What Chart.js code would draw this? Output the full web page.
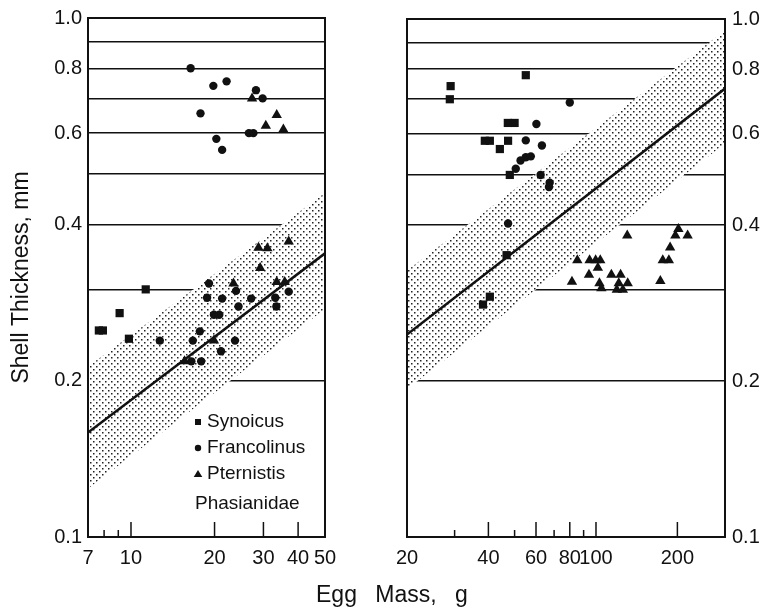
<!DOCTYPE html>
<html>
<head>
<meta charset="utf-8">
<script src="https://cdn.jsdelivr.net/npm/chart.js@4.4.0/dist/chart.umd.min.js"></script>
<style>
  html, body { margin: 0; padding: 0; background: #fff; }
  #wrap { position: relative; width: 763px; height: 609px; overflow: hidden; }
  .panel { position: absolute; top: 0; height: 609px; }
  #left  { left: 0; width: 366px; }
  #right { left: 366px; width: 397px; }
  #xtitle { position: absolute; left: 316px; top: 583px; font: 23px "Liberation Sans", Arial, sans-serif;
            line-height: 1; word-spacing: 12px; color: #111; white-space: nowrap; }
</style>
</head>
<body>
<div id="wrap">
  <div class="panel" id="left"><canvas id="c-left"></canvas></div>
  <div class="panel" id="right"><canvas id="c-right"></canvas></div>
  <div id="xtitle">Egg Mass, g</div>
</div>
<script>
/* Egg shell thickness vs egg mass - two log-log panels */

/* ── Axis ticks ── */
var yGrid   = [0.1, 0.2, 0.3, 0.4, 0.5, 0.6, 0.7, 0.8, 0.9, 1.0];
var yLabels = [0.1, 0.2, 0.4, 0.6, 0.8, 1.0];

var leftTicks   = [7, 8, 9, 10, 20, 30, 40, 50];
var leftLabels  = [7, 10, 20, 30, 40, 50];
var rightTicks  = [20, 30, 40, 50, 60, 70, 80, 90, 100, 200, 300];
var rightLabels = [20, 40, 60, 80, 100, 200];

/* ── Phasianidae: [egg mass g, shell thickness mm] ── */
var synoicus = [[7.66,0.25],[7.92,0.25],[9.1,0.27],[9.83,0.241],[11.3,0.30]];
var francolinus = [
  [16.4,0.80],[19.8,0.74],[22.1,0.755],[17.8,0.655],[20.3,0.585],[21.3,0.557],
  [28.2,0.726],[29.8,0.70],[26.6,0.60],[27.6,0.60],
  [12.7,0.239],[19.1,0.308],[18.8,0.289],[21.3,0.288],[19.9,0.268],[20.8,0.268],
  [17.7,0.249],[16.7,0.239],[24.4,0.278],[23.9,0.298],[27.1,0.288],[23.7,0.239],
  [21.1,0.228],[33.1,0.289],[33.4,0.278],[37,0.297],[16.5,0.218],[17.9,0.218]
];
var pternistis = [
  [27.3,0.70],[30.6,0.62],[33.5,0.65],[35.4,0.61],[28.8,0.361],[31,0.36],[37,0.371],
  [29.2,0.33],[33.5,0.31],[35.8,0.31],[23.4,0.308],[19.9,0.239],[15.6,0.218]
];

/* ── Numididae, Cracidae, Megapodidae ── */
var numida = [
  [29,0.742],[28.8,0.70],[47.2,0.63],[50,0.63],[38.8,0.582],[40.5,0.582],[44.1,0.561],
  [47.3,0.582],[48,0.50],[55,0.779],[46.7,0.35],[38.2,0.281],[40.5,0.291]
];
var ortalis = [
  [80,0.69],[60.2,0.627],[55,0.583],[63.1,0.57],[52.6,0.533],[55,0.541],[57.4,0.543],
  [50.5,0.514],[62.4,0.50],[67.4,0.483],[67,0.474],[47.3,0.403]
];
var megapodidae = [
  [130.5,0.382],[201.7,0.393],[196.6,0.382],[218.2,0.382],[188,0.362],[176.6,0.342],
  [186,0.342],[173,0.312],[85.3,0.342],[94.7,0.342],[99.7,0.342],[103.7,0.342],
  [101.6,0.331],[94.2,0.321],[81.5,0.311],[114,0.321],[123.3,0.321],[103,0.309],
  [104.7,0.302],[121.4,0.309],[131,0.309],[119.4,0.300],[125.7,0.300]
];

/* ── Allometric line and its band (end points) ── */
var leftFit     = [[7,0.159],[50,0.352]];
var leftBandHi  = [[7,0.213],[50,0.46]];
var leftBandLo  = [[7,0.124],[50,0.275]];
var rightFit    = [[20,0.246],[300,0.734]];
var rightBandHi = [[20,0.327],[300,0.95]];
var rightBandLo = [[20,0.193],[300,0.575]];

var INK = '#111';
var tickFont   = { family: '"Liberation Sans", Arial, sans-serif', size: 20 };
var legendFont = '19px "Liberation Sans", Arial, sans-serif';

function xy(a) { return a.map(function(p) { return { x: p[0], y: p[1] }; }); }

/* white-backed dot screen, so grid lines vanish under the band */
function stipple() {
    var c = document.createElement('canvas');
    c.width = 6; c.height = 6;
    var g = c.getContext('2d');
    g.fillStyle = '#fff'; g.fillRect(0, 0, 6, 6);
    g.fillStyle = '#222';
    g.fillRect(0, 0, 1.5, 1.5);
    g.fillRect(3, 3, 1.5, 1.5);
    return g.createPattern(c, 'repeat');
}
var dots = stipple();

function points(label, data, style, r) {
    return { label: label, data: xy(data), showLine: false, pointStyle: style,
             pointRadius: r, pointHoverRadius: r, pointBackgroundColor: INK,
             pointBorderColor: INK, pointBorderWidth: 0 };
}
function fitLine(data) {
    return { data: xy(data), borderColor: INK, borderWidth: 2.5, pointRadius: 0, fill: false };
}
function band(data, fill) {
    return { data: xy(data), borderColor: 'rgba(0,0,0,0)', borderWidth: 1, pointRadius: 0,
             fill: fill, backgroundColor: dots };
}

function marker(ctx, style, x, y) {
    ctx.beginPath();
    if (style === 'rect') ctx.rect(x - 3, y - 3, 6, 6);
    else if (style === 'circle') ctx.arc(x, y, 3.2, 0, Math.PI * 2);
    else { ctx.moveTo(x, y - 4); ctx.lineTo(x + 4.3, y + 3); ctx.lineTo(x - 4.3, y + 3); ctx.closePath(); }
    ctx.fill();
}

/* frame, inward x ticks, legend inside the plot */
var framePlugin = {
    id: 'frame',
    afterDraw: function(chart, args, opts) {
        var a = chart.chartArea, ctx = chart.ctx, xs = chart.scales.x;
        ctx.save();
        ctx.strokeStyle = INK; ctx.fillStyle = INK;
        ctx.lineWidth = 1.5;
        opts.ticks.forEach(function(v) {
            if (v === xs.min || v === xs.max) return;
            var px = xs.getPixelForValue(v);
            var len = opts.labels.indexOf(v) >= 0 ? 15 : 7;
            ctx.beginPath(); ctx.moveTo(px, a.bottom); ctx.lineTo(px, a.bottom - len); ctx.stroke();
        });
        ctx.lineWidth = 2;
        ctx.strokeRect(a.left, a.top, a.right - a.left, a.bottom - a.top);

        var lg = opts.legend;
        ctx.font = legendFont;
        ctx.textBaseline = 'middle';
        chart.data.datasets.filter(function(d) { return d.showLine === false; })
            .forEach(function(d, i) {
                var y = lg.y + i * lg.dy;
                marker(ctx, d.pointStyle, lg.x, y);
                ctx.fillText(d.label, lg.x + 9, y);
            });
        if (lg.note) ctx.fillText(lg.note, lg.x - 3, lg.y + 3 * lg.dy + 4);
        ctx.restore();
    }
};

function makeChart(id, o) {
    var yAxis = {
        type: 'logarithmic', position: o.side, min: 0.1, max: 1.0,
        afterBuildTicks: function(s) { s.ticks = yGrid.map(function(v) { return { value: v }; }); },
        afterFit: function(s) { s.width = o.yWidth; },
        grid: { color: INK, lineWidth: 1.5, drawTicks: false },
        border: { display: false },
        ticks: { padding: o.side === 'left' ? 6 : 7, color: INK, font: tickFont, autoSkip: false,
                 callback: function(v) { return yLabels.indexOf(v) >= 0 ? v.toFixed(1) : ''; } }
    };
    if (o.yTitle) yAxis.title = { display: true, text: o.yTitle, color: INK,
        font: { family: '"Liberation Sans", Arial, sans-serif', size: 23 }, padding: { top: 8, bottom: 0 } };

    return new Chart(document.getElementById(id), {
        type: 'line',
        data: { datasets: o.datasets },
        plugins: [framePlugin],
        options: {
            responsive: true, maintainAspectRatio: false, animation: false,
            layout: { padding: o.padding },
            plugins: { legend: { display: false }, tooltip: { enabled: false },
                       frame: { ticks: o.xTicks, labels: o.xLabels, legend: o.legend } },
            scales: {
                x: {
                    type: 'logarithmic', min: o.xMin, max: o.xMax,
                    afterBuildTicks: function(s) { s.ticks = o.xTicks.map(function(v) { return { value: v }; }); },
                    afterFit: function(s) { s.height = 72; },
                    grid: { display: false }, border: { display: false },
                    ticks: { autoSkip: false, maxRotation: 0, padding: 1, color: INK, font: tickFont,
                             callback: function(v) { return o.xLabels.indexOf(v) >= 0 ? String(v) : ''; } }
                },
                y: yAxis
            }
        }
    });
}

makeChart('c-left', {
    side: 'left', yWidth: 88, yTitle: 'Shell Thickness, mm',
    xMin: 7, xMax: 50, xTicks: leftTicks, xLabels: leftLabels,
    padding: { left: 0, right: 41, top: 15, bottom: 0 },
    legend: { x: 198, y: 422, dy: 26, note: 'Phasianidae' },
    datasets: [
        points('Synoicus', synoicus, 'rect', 5.8),
        points('Francolinus', francolinus, 'circle', 4.2),
        points('Pternistis', pternistis, 'triangle', 6),
        fitLine(leftFit),
        band(leftBandHi, '+1'),
        band(leftBandLo, false)
    ]
});

makeChart('c-right', {
    side: 'right', yWidth: 38,
    xMin: 20, xMax: 300, xTicks: rightTicks, xLabels: rightLabels,
    padding: { left: 41, right: 0, top: 15, bottom: 0 },
    legend: { x: 527, y: 422, dy: 26 },
    datasets: [
        points('Numida-Numididae', numida, 'rect', 5.8),
        points('Ortalis-Cracidae', ortalis, 'circle', 4.2),
        points('Megapodidae', megapodidae, 'triangle', 6),
        fitLine(rightFit),
        band(rightBandHi, '+1'),
        band(rightBandLo, false)
    ]
});
</script>
</body>
</html>
